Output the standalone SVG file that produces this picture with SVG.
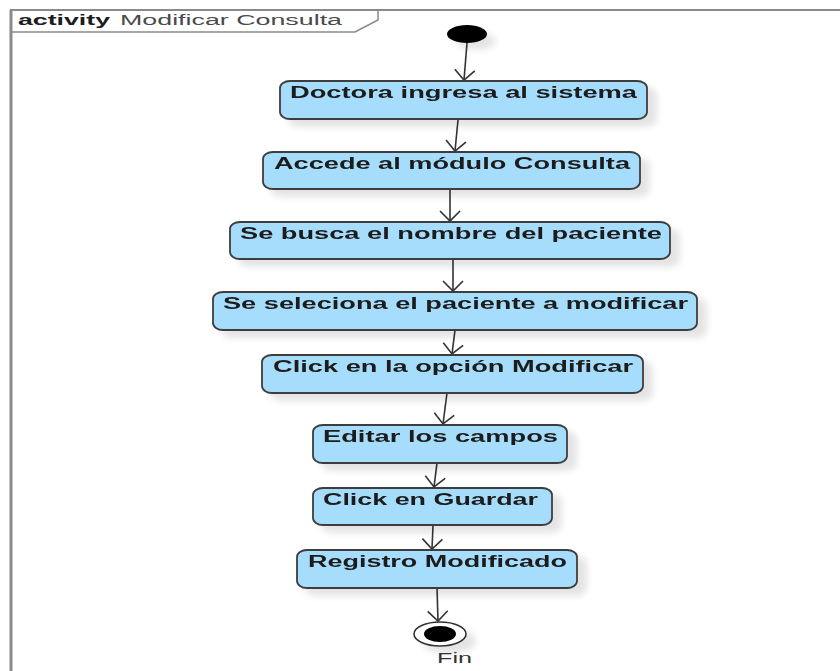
<svg xmlns="http://www.w3.org/2000/svg" width="840" height="671" viewBox="0 0 840 671">
  <style>
    .frame { fill: none; stroke: #8a8a8a; }
    .act { fill: #a6ddfc; stroke: #3e3e3e; stroke-width: 1.8; }
    .lbl { font-family: "Liberation Sans", Arial, sans-serif; font-size: 16px; font-weight: bold; fill: #1c1c1c; }
    .title-kw { font-family: "Liberation Sans", Arial, sans-serif; font-size: 14px; font-weight: bold; fill: #1c1c1c; }
    .title-nm { font-family: "Liberation Sans", Arial, sans-serif; font-size: 14px; fill: #4a4a4a; }
    .flow { fill: none; stroke: #333333; stroke-width: 1.6; marker-end: url(#open); }
    .fin { font-family: "Liberation Sans", Arial, sans-serif; font-size: 15px; fill: #333333; }
  </style>
  <defs>
    <filter id="shadow" x="-20%" y="-40%" width="150%" height="200%">
      <feGaussianBlur in="SourceAlpha" stdDeviation="3.5"/>
      <feOffset dx="9" dy="7" result="b"/>
      <feComponentTransfer><feFuncA type="linear" slope="0.11"/></feComponentTransfer>
      <feMerge><feMergeNode/><feMergeNode in="SourceGraphic"/></feMerge>
    </filter>
    <marker id="open" viewBox="-12 -12 14 24" refX="0" refY="0" markerWidth="14" markerHeight="24" markerUnits="userSpaceOnUse" orient="auto">
      <path d="M-10,-10 L0,0 L-10,10" fill="none" stroke="#333333" stroke-width="1.6"/>
    </marker>
  </defs>
  <rect width="840" height="671" fill="#ffffff"/>

  <!-- activity frame -->
  <g id="frame">
    <line class="frame" x1="10" y1="10" x2="840" y2="10" stroke-width="2"/>
    <line class="frame" x1="11" y1="10" x2="11" y2="671" stroke-width="3"/>
    <path class="frame" d="M11,32 H355 L378,20 V10" stroke-width="1.5"/>
    <text class="title-kw" x="18" y="25" textLength="92" lengthAdjust="spacingAndGlyphs">activity</text>
    <text class="title-nm" x="120" y="25" textLength="222" lengthAdjust="spacingAndGlyphs">Modificar Consulta</text>
  </g>

  <!-- control flows -->
  <g id="flows">
    <path class="flow" d="M467,43 L464,80"/>
    <path class="flow" d="M458,120 L455,151"/>
    <path class="flow" d="M450,189 L450,221"/>
    <path class="flow" d="M453,259 L453,291"/>
    <path class="flow" d="M455,330 L452,354"/>
    <path class="flow" d="M447,393 L443,424"/>
    <path class="flow" d="M437,463 L434,487"/>
    <path class="flow" d="M433,525 L432,549"/>
    <path class="flow" d="M437,588 L438,621"/>
  </g>

  <g id="start" filter="url(#shadow)">
    <ellipse cx="467" cy="34" rx="20" ry="9" fill="#000000"/>
  </g>

  <g id="n1" filter="url(#shadow)">
    <rect class="act" x="280" y="81" width="367" height="38" rx="10" ry="7"/>
    <text class="lbl" x="290" y="98" textLength="347" lengthAdjust="spacingAndGlyphs">Doctora ingresa al sistema</text>
  </g>
  <g id="n2" filter="url(#shadow)">
    <rect class="act" x="263" y="152" width="377" height="37" rx="10" ry="7"/>
    <text class="lbl" x="274" y="168.5" textLength="356" lengthAdjust="spacingAndGlyphs">Accede al módulo Consulta</text>
  </g>
  <g id="n3" filter="url(#shadow)">
    <rect class="act" x="230" y="222" width="440" height="37" rx="10" ry="7"/>
    <text class="lbl" x="240" y="239" textLength="422" lengthAdjust="spacingAndGlyphs">Se busca el nombre del paciente</text>
  </g>
  <g id="n4" filter="url(#shadow)">
    <rect class="act" x="213" y="292" width="484" height="38" rx="10" ry="7"/>
    <text class="lbl" x="223" y="309" textLength="465" lengthAdjust="spacingAndGlyphs">Se seleciona el paciente a modificar</text>
  </g>
  <g id="n5" filter="url(#shadow)">
    <rect class="act" x="262" y="355" width="381" height="38" rx="10" ry="7"/>
    <text class="lbl" x="273" y="372" textLength="360" lengthAdjust="spacingAndGlyphs">Click en la opción Modificar</text>
  </g>
  <g id="n6" filter="url(#shadow)">
    <rect class="act" x="313" y="425" width="254" height="38" rx="10" ry="7"/>
    <text class="lbl" x="323" y="442" textLength="235" lengthAdjust="spacingAndGlyphs">Editar los campos</text>
  </g>
  <g id="n7" filter="url(#shadow)">
    <rect class="act" x="313" y="488" width="239" height="37" rx="10" ry="7"/>
    <text class="lbl" x="323" y="505" textLength="215" lengthAdjust="spacingAndGlyphs">Click en Guardar</text>
  </g>
  <g id="n8" filter="url(#shadow)">
    <rect class="act" x="297" y="550" width="280" height="38" rx="10" ry="7"/>
    <text class="lbl" x="308" y="567" textLength="259" lengthAdjust="spacingAndGlyphs">Registro Modificado</text>
  </g>

  <g id="end">
    <g filter="url(#shadow)">
      <ellipse cx="440" cy="634" rx="26" ry="12" fill="#ffffff" stroke="#333333" stroke-width="1.6"/>
    </g>
    <ellipse cx="440" cy="634" rx="16" ry="8" fill="#000000"/>
    <text class="fin" x="437" y="663" textLength="35" lengthAdjust="spacingAndGlyphs">Fin</text>
  </g>
</svg>
